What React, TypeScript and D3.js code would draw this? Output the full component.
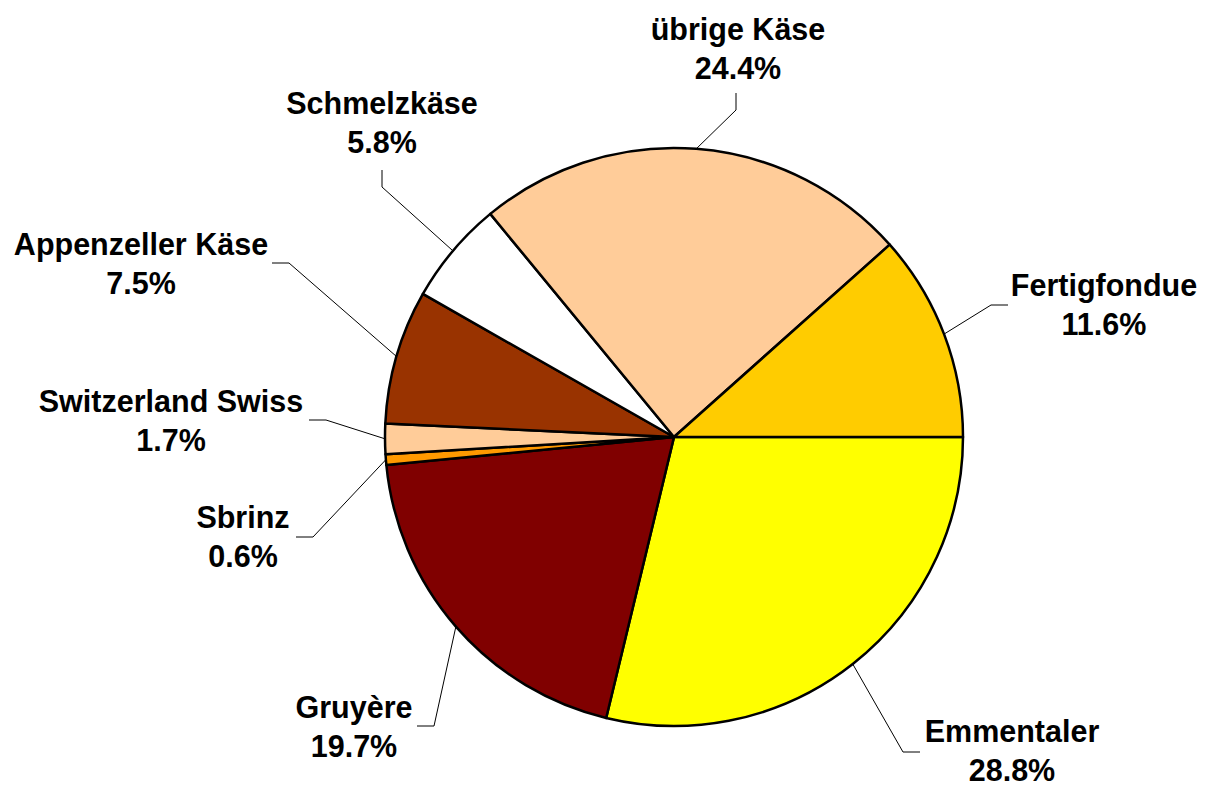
import React from "react"
import * as d3 from "d3"

// data
const categories = [
  "Emmentaler",
  "Gruyère",
  "Sbrinz",
  "Switzerland Swiss",
  "Appenzeller Käse",
  "Schmelzkäse",
  "übrige Käse",
  "Fertigfondue",
]
const shares = [28.8, 19.7, 0.6, 1.7, 7.5, 5.8, 24.4, 11.6]
const percentLabels = ["28.8%", "19.7%", "0.6%", "1.7%", "7.5%", "5.8%", "24.4%", "11.6%"]
const colors = ["#FFFF00", "#800000", "#FF9900", "#FFCC99", "#993300", "#FFFFFF", "#FFCC99", "#FFCC00"]

// label layout: text centre x, first baseline y, leader end point, end direction
const labelPos = [
  { x: 1012, y: 742, ex: 920, ey: 752, dir: "h" },
  { x: 354, y: 718, ex: 417, ey: 726, dir: "h" },
  { x: 243, y: 528, ex: 296, ey: 537, dir: "h" },
  { x: 171, y: 412, ex: 309, ey: 420, dir: "h" },
  { x: 141, y: 255, ex: 272, ey: 263, dir: "h" },
  { x: 382, y: 114, ex: 382, ey: 170, dir: "v" },
  { x: 738, y: 40, ex: 736, ey: 93, dir: "v" },
  { x: 1104, y: 296, ex: 1008, ey: 305, dir: "h" },
]

const W = 1205
const H = 785
const cx = 674
const cy = 437
const R = 289

const App = () => {
  const data = categories.map((c, i) => ({ name: c, value: shares[i], i }))
  const pie = d3
    .pie<any>()
    .value(d => d.value)
    .sort(null)
    .startAngle(Math.PI / 2)
    .endAngle(Math.PI / 2 + 2 * Math.PI)
  const arcs = pie(data)
  const arc = d3.arc<any>().innerRadius(0).outerRadius(R)

  return (
    <svg width={W} height={H} style={{ position: "absolute", left: 0, top: 0 }}>
      <rect width={W} height={H} fill="#fff" />
      <g transform={`translate(${cx},${cy})`}>
        {arcs.map((a, i) => (
          <path key={i} d={arc(a) || ""} fill={colors[i]} stroke="#000" strokeWidth={2.5} strokeLinejoin="round" />
        ))}
      </g>
      {arcs.map((a, i) => {
        const mid = (a.startAngle + a.endAngle) / 2
        const sx = cx + R * Math.sin(mid)
        const sy = cy - R * Math.cos(mid)
        const lp = labelPos[i]
        let elx = lp.ex
        let ely = lp.ey
        if (lp.dir === "h") elx = lp.ex + (sx > lp.ex ? 17 : -17)
        else ely = lp.ey + 17
        return (
          <g key={"l" + i}>
            <polyline
              points={`${sx},${sy} ${elx},${ely} ${lp.ex},${lp.ey}`}
              fill="none"
              stroke="#000"
              strokeWidth={1}
            />
            <text
              x={lp.x}
              y={lp.y}
              textAnchor="middle"
              fontFamily="'Liberation Sans', Arial, sans-serif"
              fontWeight="bold"
              fontSize={30.5}
              fill="#000"
            >
              <tspan x={lp.x}>{categories[i]}</tspan>
              <tspan x={lp.x} dy={39}>{percentLabels[i]}</tspan>
            </text>
          </g>
        )
      })}
    </svg>
  )
}

export default App
